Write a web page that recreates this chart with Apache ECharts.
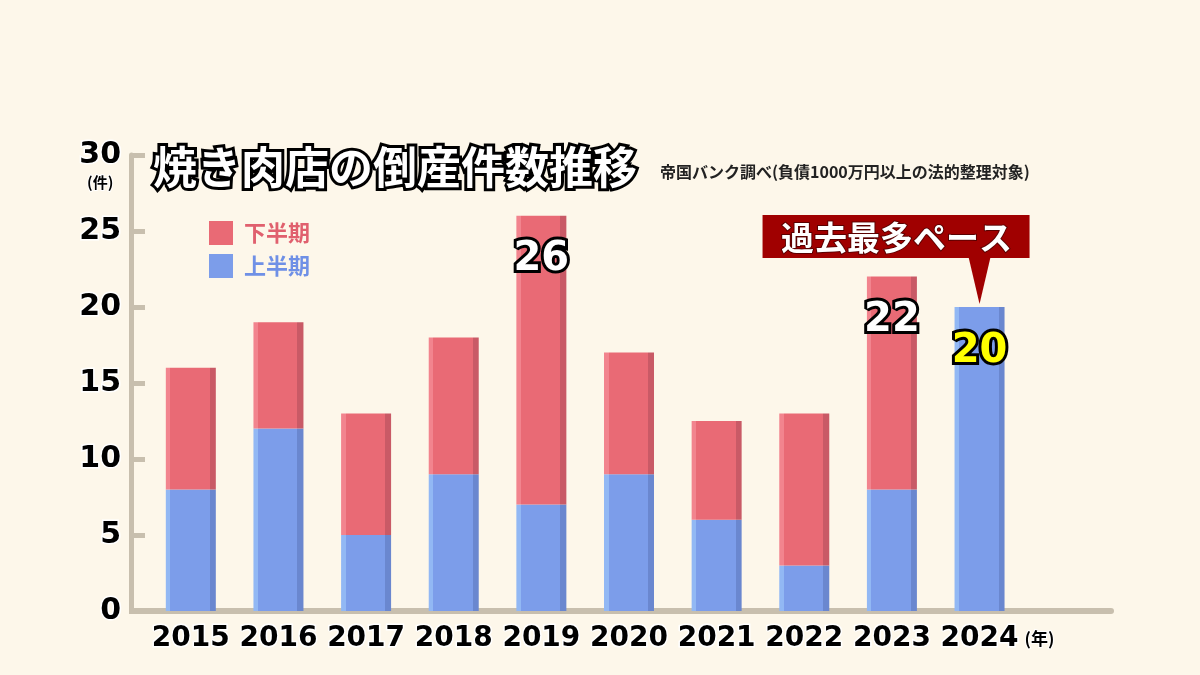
<!DOCTYPE html>
<html>
<head>
<meta charset="utf-8">
<script src="https://cdn.jsdelivr.net/npm/echarts@6/dist/echarts.min.js"></script>
<style>
  html, body { margin: 0; padding: 0; background: #fdf7ea; }
  #chart { width: 1200px; height: 675px; }
</style>
</head>
<body>
<div id="chart"></div>
<script>
    // 年  (最後の空欄は右側の余白)
    const years = ['2015', '2016', '2017', '2018', '2019', '2020', '2021', '2022', '2023', '2024', '']
    // 上半期 / 下半期 の件数
    const firstHalf = [8, 12, 5, 9, 7, 9, 6, 3, 8, 20, null]
    const secondHalf = [8, 7, 8, 9, 19, 8, 6.5, 10, 14, null, null]
    // 合計を表示する年
    const labelledYears = ['2019', '2023', '2024']

    const numFont = 'DejaVu Sans'
    const jpFont = '"Noto Sans CJK JP", sans-serif'
    const axisColor = '#c8bfae'

    function barColor(light, base, dark) {
        return new echarts.graphic.LinearGradient(0, 0, 1, 0, [
            {offset: 0, color: light}, {offset: 0.09, color: light},
            {offset: 0.09, color: base}, {offset: 0.88, color: base},
            {offset: 0.88, color: dark}, {offset: 1, color: dark}
        ])
    }
    const blue = barColor('#92b8f4', '#7c9dea', '#6a87cf')
    const red = barColor('#f2848e', '#e96a75', '#c95a66')

    function total(i) {
        return (firstHalf[i] || 0) + (secondHalf[i] || 0)
    }

    function valueLabel(i, yellow) {
        return {
            show: labelledYears.indexOf(years[i]) >= 0,
            position: 'insideTop',
            distance: yellow ? 25 : 24,
            formatter: () => String(total(i)),
            color: yellow ? '#ffff00' : '#ffffff',
            fontFamily: numFont,
            fontWeight: 'bold',
            fontSize: 40,
            textBorderColor: '#000',
            textBorderWidth: 6
        }
    }

    const chart = echarts.init(document.getElementById('chart'))

    const titleGraphics = [
        {
            type: 'text',
            left: 150,
            top: 142,
            style: {
                text: '焼き肉店の倒産件数推移',
                fill: '#fff',
                stroke: '#000',
                lineWidth: 6,
                font: 'bold 44px ' + jpFont
            }
        },
        {
            type: 'text',
            left: 660,
            top: 164,
            style: {
                text: '帝国バンク調べ(負債1000万円以上の法的整理対象)',
                fill: '#222',
                font: 'bold 16px ' + jpFont
            }
        },
        {
            type: 'text',
            left: 86,
            top: 174,
            style: {
                text: '(件)',
                fill: '#000',
                stroke: '#fff',
                lineWidth: 2,
                font: 'bold 15px ' + jpFont
            }
        }
    ]

    const option = {
        backgroundColor: '#fdf7ea',
        animation: false,
        grid: {left: 147, right: 89, top: 155, bottom: 64},
        legend: {
            orient: 'vertical',
            left: 204,
            top: 216,
            itemWidth: 24,
            itemHeight: 24,
            itemGap: 9,
            icon: 'rect',
            data: [
                {name: '下半期', itemStyle: {color: '#e96a75'}, textStyle: {color: '#e0606e'}},
                {name: '上半期', itemStyle: {color: '#7c9dea'}, textStyle: {color: '#6f90e6'}}
            ],
            textStyle: {fontFamily: jpFont, fontWeight: 'bold', fontSize: 22, padding: [0, 0, 0, 6]}
        },
        xAxis: {
            type: 'category',
            data: years,
            axisTick: {show: false},
            axisLine: {show: true, lineStyle: {color: axisColor, width: 6}},
            axisLabel: {
                interval: 0,
                margin: 14,
                // 2024 だけ (年) を付ける  左に同じ幅の空白を置いて中央をそろえる
                formatter: v => v === '2024' ? '{s|}{y|' + v + '}{u|(年)}' : '{y|' + v + '}',
                rich: {
                    y: {
                        fontFamily: numFont, fontWeight: 'bold', fontSize: 28, color: '#000',
                        textBorderColor: '#fff', textBorderWidth: 3
                    },
                    u: {
                        fontFamily: jpFont, fontWeight: 'bold', fontSize: 17, color: '#000',
                        textBorderColor: '#fff', textBorderWidth: 2, padding: [0, 0, 0, 4], width: 34, align: 'left'
                    },
                    s: {width: 38}
                }
            }
        },
        yAxis: {
            type: 'value',
            min: 0,
            max: 30,
            interval: 5,
            offset: 16,
            splitLine: {show: false},
            axisLine: {show: true, lineStyle: {color: axisColor, width: 5}},
            axisTick: {show: true, inside: true, length: 14, lineStyle: {color: axisColor, width: 5}},
            axisLabel: {
                margin: 10,
                color: '#000',
                fontFamily: numFont,
                fontWeight: 'bold',
                fontSize: 30,
                textBorderColor: '#fff',
                textBorderWidth: 3
            }
        },
        series: [
            {
                name: '上半期',
                type: 'bar',
                stack: 'total',
                barWidth: 50,
                itemStyle: {color: blue},
                data: firstHalf.map((v, i) => ({
                    value: v == null ? '-' : v,
                    label: years[i] === '2024' ? valueLabel(i, true) : {show: false}
                }))
            },
            {
                name: '下半期',
                type: 'bar',
                stack: 'total',
                barWidth: 50,
                itemStyle: {color: red},
                data: secondHalf.map((v, i) => ({
                    value: v == null ? '-' : v,
                    label: v == null ? {show: false} : valueLabel(i, false)
                }))
            }
        ],
        graphic: titleGraphics
    }

    chart.setOption(option)

    // 横軸の線を縦軸の位置まで延ばす
    let origin = chart.convertToPixel({xAxisIndex: 0, yAxisIndex: 0}, [0, 0])
    let gridLeft = origin[0] - chart.getModel().getComponent('xAxis', 0).axis.getBandWidth() / 2
    // 「過去最多ペース」の吹き出し  2024年の棒の上に付ける
    let idx2024 = years.indexOf('2024')
    let tip = chart.convertToPixel({xAxisIndex: 0, yAxisIndex: 0}, [idx2024, total(idx2024)])

    chart.setOption({
        graphic: titleGraphics.concat([
            {
                type: 'rect',
                shape: {x: gridLeft - 18, y: origin[1] - 3, width: 20, height: 6},
                style: {fill: axisColor},
                z: 1
            },
            {
                type: 'group',
                x: tip[0],
                y: tip[1],
                children: [
                    {
                        type: 'rect',
                        shape: {x: -217, y: -92, width: 267, height: 43},
                        style: {fill: '#a00000'}
                    },
                    {
                        type: 'polygon',
                        shape: {points: [[-11, -50], [11, -50], [0, -3]]},
                        style: {fill: '#a00000'}
                    },
                    {
                        type: 'text',
                        x: -83,
                        y: -70,
                        style: {
                            text: '過去最多ペース',
                            fill: '#fff',
                            stroke: '#5a0000',
                            lineWidth: 2,
                            font: 'bold 33px ' + jpFont,
                            align: 'center',
                            verticalAlign: 'middle'
                        }
                    }
                ]
            }
        ])
    })
</script>
</body>
</html>
